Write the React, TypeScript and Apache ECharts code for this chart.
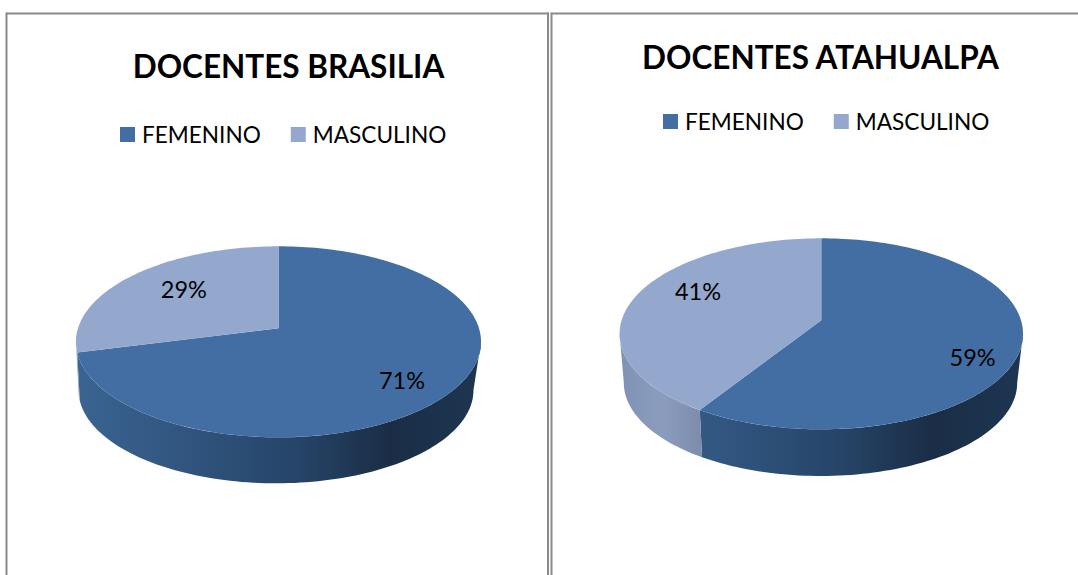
import React, { useEffect, useRef } from "react";
import * as echarts from "echarts";

const pieTitles = ["DOCENTES BRASILIA", "DOCENTES ATAHUALPA"];
const categories = ["FEMENINO", "MASCULINO"];
const femenino = [71, 59];
const masculino = [29, 41];

const FONT = "Lato, Carlito, Calibri, 'Open Sans', sans-serif";

// layout of each 3D pie: apex position and perspective
const pieLayout = [
  { cx: 278.5, cy: 328.3, shift: -2.5, a: 200.5, depth: 48.7 },
  { cx: 821.3, cy: 320.3, shift: -0.8, a: 199.7, depth: 49.4 },
];
const B = 93.6;
const K = 0.1415;
const BOTTOM_SCALE = 0.975;
const VIS_FROM = 98;
const VIS_TO = 262;

const topColors = ["#436ea4", "#94a8ce"];
const sideStops = [
  [
    { offset: 0, color: "#3b6492" },
    { offset: 0.35, color: "#2d5078" },
    { offset: 0.55, color: "#264468" },
    { offset: 0.78, color: "#1a2d45" },
    { offset: 1, color: "#1d3652" },
  ],
  [
    { offset: 0, color: "#8093b4" },
    { offset: 0.1, color: "#8b9dbe" },
    { offset: 0.2, color: "#7d8cab" },
    { offset: 1, color: "#7d8cab" },
  ],
];
// label placement: radial fraction and vertical nudge, per category then pie
const labelRadius = [
  [0.73, 0.765],
  [0.63, 0.66],
];
const labelNudge = [
  [7, 16],
  [-5, -13],
];

function project(pie: number, deg: number, r: number, bottom: boolean) {
  const p = pieLayout[pie];
  const t = (deg * Math.PI) / 180;
  const w = 1 + K * r * Math.cos(t);
  const s = bottom ? BOTTOM_SCALE : 1;
  return [
    p.cx + (bottom ? p.shift : 0) + (s * p.a * r * Math.sin(t)) / w,
    p.cy + (bottom ? p.depth : 0) - (s * B * r * Math.cos(t)) / w,
  ];
}

function arc(pie: number, a: number, b: number, bottom: boolean) {
  const n = Math.max(2, Math.ceil(Math.abs(b - a) / 1.5));
  const pts: number[][] = [];
  for (let i = 0; i <= n; i++) pts.push(project(pie, a + ((b - a) * i) / n, 1, bottom));
  return pts;
}

function makeRender(cat: number) {
  return (params: any, api: any) => {
    const pie = params.dataIndex;
    const value = api.value(0);
    const total = femenino[pie] + masculino[pie];
    const start = cat === 0 ? 0 : (femenino[pie] / total) * 360;
    const end = start + (value / total) * 360;
    const children: any[] = [];
    const sa = Math.max(start, VIS_FROM);
    const sb = Math.min(end, VIS_TO);
    const p = pieLayout[pie];
    if (sb > sa) {
      children.push({
        type: "polygon",
        shape: { points: [...arc(pie, sa, sb, false), ...arc(pie, sb, sa, true)] },
        style: {
          fill: new echarts.graphic.LinearGradient(
            p.cx - p.a, 0, p.cx + p.a, 0, sideStops[cat], true
          ),
        },
      });
    }
    children.push({
      type: "polygon",
      shape: { points: [[p.cx, p.cy], ...arc(pie, start, end, false)] },
      style: { fill: topColors[cat] },
    });
    const [lx, ly] = project(pie, (start + end) / 2, labelRadius[cat][pie], false);
    children.push({
      type: "text",
      z2: 10,
      style: {
        x: lx,
        y: ly + labelNudge[cat][pie],
        text: Math.round((value / total) * 100) + "%",
        fill: "#000",
        font: `23.5px ${FONT}`,
        align: "center",
        verticalAlign: "middle",
      },
    });
    return { type: "group", children };
  };
}

const BORDER = "#8a8a8a";
function vline(x: number) {
  return {
    type: "line",
    shape: { x1: x, y1: 12.5, x2: x, y2: 575 },
    style: { stroke: BORDER, lineWidth: 2 },
  };
}
function hline(x1: number, x2: number) {
  return {
    type: "line",
    shape: { x1, y1: 13.5, x2, y2: 13.5 },
    style: { stroke: BORDER, lineWidth: 2 },
  };
}

function legend(left: number, top: number) {
  return {
    data: categories,
    left,
    top,
    icon: "rect",
    itemWidth: 15,
    itemHeight: 15,
    itemGap: 30,
    padding: 0,
    selectedMode: false,
    textStyle: { fontFamily: FONT, fontSize: 22.6, color: "#000", padding: [0, 0, 0, 2] },
  };
}

export default function App() {
  const ref = useRef<HTMLDivElement>(null);
  useEffect(() => {
    document.body.style.margin = "0";
    const chart = echarts.init(ref.current!, null, { renderer: "svg" });
    chart.setOption({
      animation: false,
      backgroundColor: "#fff",
      tooltip: { show: false },
      title: [
        { text: pieTitles[0], left: 288.5, top: 50, textAlign: "center" },
        { text: pieTitles[1], left: 820.5, top: 41, textAlign: "center" },
      ].map((t) => ({
        ...t,
        padding: 0,
        textStyle: { fontFamily: FONT, fontSize: 31.5, fontWeight: "bold", color: "#000" },
      })),
      legend: [legend(120, 123), legend(663, 110)],
      graphic: {
        elements: [vline(6.5), vline(548), vline(551.5), hline(6, 549), hline(551, 1078)],
      },
      series: [femenino, masculino].map((vals, cat) => ({
        type: "custom",
        name: categories[cat],
        coordinateSystem: "none",
        itemStyle: { color: topColors[cat] },
        renderItem: makeRender(cat),
        data: vals.map((v) => [v]),
        silent: true,
      })),
    });
    return () => chart.dispose();
  }, []);
  return <div ref={ref} style={{ position: "fixed", left: 0, top: 0, width: 1078, height: 575 }} />;
}
